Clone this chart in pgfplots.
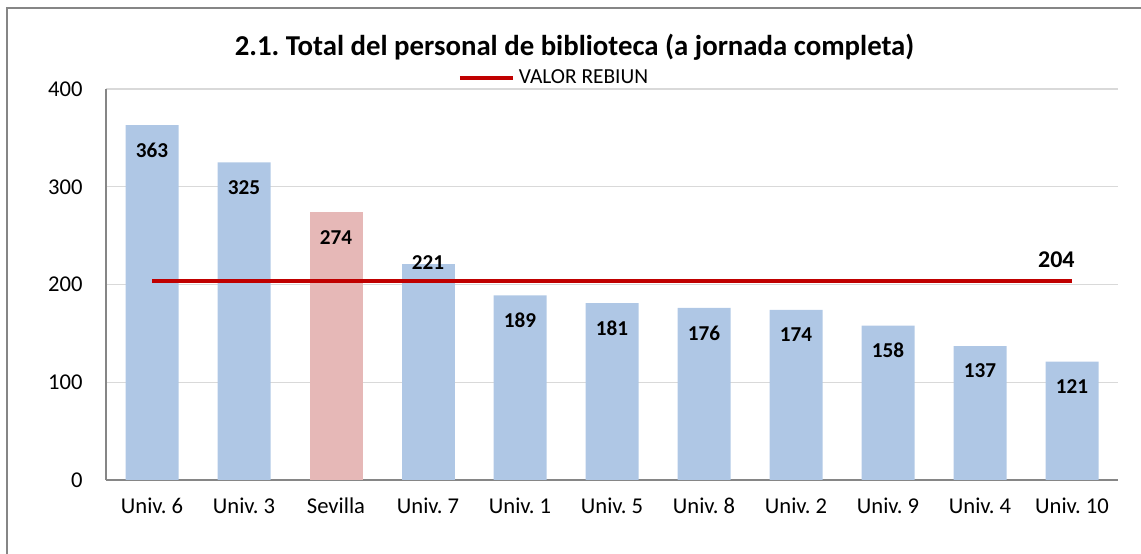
\documentclass[border=0pt]{standalone}
\usepackage{pgfplots}
\pgfplotsset{compat=1.18}
\usepackage{fontspec}
\setmainfont{Carlito}
\frenchspacing
\definecolor{barblue}{RGB}{175,199,229}
\definecolor{barpink}{RGB}{230,184,183}
\definecolor{rebiun}{RGB}{192,0,0}
\definecolor{gridgray}{RGB}{217,217,217}
\definecolor{axgray}{RGB}{134,134,134}
\begin{document}
\begin{tikzpicture}
\path[use as bounding box] (0,0) rectangle (570.5bp,277bp);
\draw[axgray, line width=0.6bp] (3.5bp,0) -- (3.5bp,273bp) -- (570.5bp,273bp);
\node[font=\fontsize{14.4bp}{17bp}\selectfont\bfseries] at (287.25bp,253.5bp) {2.1. Total del personal de biblioteca (a jornada completa)};
\begin{axis}[
  at={(53bp,37bp)}, anchor=south west,
  width=506bp, height=195.5bp, scale only axis,
  xmin=-0.5, xmax=10.5, ymin=0, ymax=400,
  ytick={0,100,200,300,400},
  xtick={0,...,10},
  xticklabels={Univ. 6, Univ. 3, Sevilla, Univ. 7, Univ. 1, Univ. 5, Univ. 8, Univ. 2, Univ. 9, Univ. 4, Univ. 10},
  axis x line*=bottom, axis y line*=left,
  axis line style={axgray, line width=0.6bp, -},
  ymajorgrids, grid style={gridgray, line width=0.6bp},
  major tick length=0pt,
  /pgf/number format/assume math mode=true,
  tick label style={font=\fontsize{11.3bp}{13bp}\selectfont, inner sep=0pt},
  y tick label style={anchor=east, xshift=-11.5bp},
  x tick label style={anchor=base, yshift=-16.5bp},
  legend style={at={(0.4437,1.028)}, anchor=center, draw=none, fill=none,
    font=\fontsize{10.7bp}{12bp}\selectfont, inner sep=0pt,
    legend cell align=left},
  legend image code/.code={\draw[#1] (0bp,0bp) -- (26.5bp,0bp);},
  nodes near coords style={font=\fontsize{10.6bp}{12bp}\selectfont\bfseries, anchor=center, yshift=-12.5bp},
]
\addplot[ybar, bar width=26.5bp, bar shift=0pt, fill=barblue, draw=none, forget plot,
  nodes near coords, nodes near coords align={center}]
  coordinates {(0,363) (1,325) (4,189) (5,181) (6,176) (7,174) (8,158) (9,137) (10,121)};
\addplot[ybar, bar width=26.5bp, bar shift=0pt, fill=barblue, draw=none, forget plot,
  nodes near coords, nodes near coords align={center},
  every node near coord/.append style={yshift=13bp}]
  coordinates {(3,221)};
\addplot[ybar, bar width=26.5bp, bar shift=0pt, fill=barpink, draw=none, forget plot,
  nodes near coords, nodes near coords align={center}]
  coordinates {(2,274)};
\addplot[rebiun, line width=2bp, mark=none]
  coordinates {(0,204) (10,204)}
  node[pos=0.983, above, yshift=2bp, font=\fontsize{12bp}{14bp}\selectfont\bfseries, black] {204};
\addlegendentry{VALOR REBIUN}
\end{axis}
\end{tikzpicture}
\end{document}
